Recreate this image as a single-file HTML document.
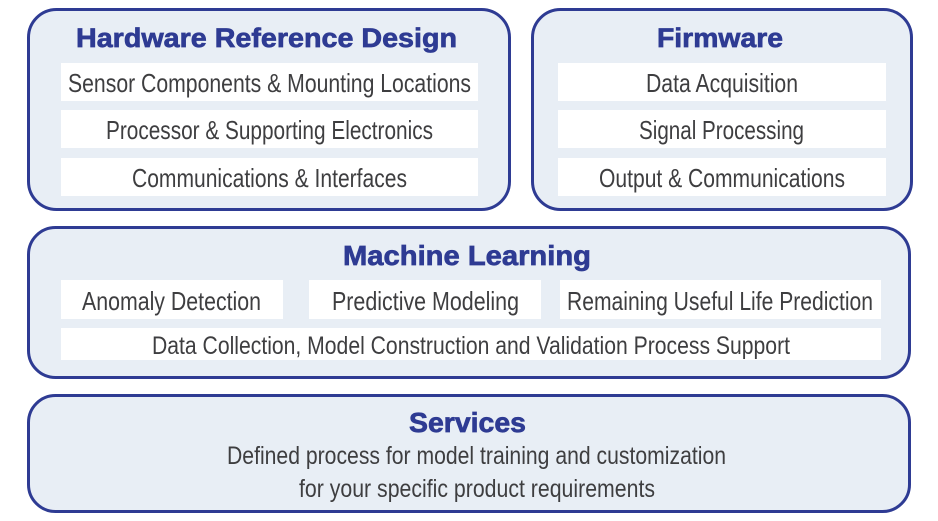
<!DOCTYPE html>
<html>
<head>
<meta charset="utf-8">
<style>
  html, body { margin: 0; padding: 0; background: #ffffff; }
  body { width: 938px; height: 521px; overflow: hidden; }
  svg { display: block; }
  .box { fill: #e8eef5; stroke: #2e3b93; stroke-width: 3; }
  .cell { fill: #ffffff; }
  .title { font-family: "Liberation Sans", Arial, sans-serif; font-weight: bold; fill: #2e3b93; stroke: #2e3b93; stroke-width: 0.7; }
  .item { font-family: "Liberation Sans", Arial, sans-serif; fill: #3e3e40; }
</style>
</head>
<body>
<svg width="938" height="521" viewBox="0 0 938 521" xmlns="http://www.w3.org/2000/svg">
  <!-- Hardware Reference Design -->
  <rect class="box" x="28.5" y="9.5" width="481" height="200" rx="28" ry="28"/>
  <text class="title" x="266.5" y="47" font-size="27" text-anchor="middle" textLength="381" lengthAdjust="spacingAndGlyphs">Hardware Reference Design</text>
  <rect class="cell" x="61" y="63" width="417" height="38"/>
  <rect class="cell" x="61" y="110" width="417" height="38"/>
  <rect class="cell" x="61" y="158" width="417" height="38"/>
  <text class="item" x="269.5" y="92" font-size="26" text-anchor="middle" textLength="403" lengthAdjust="spacingAndGlyphs">Sensor Components &amp; Mounting Locations</text>
  <text class="item" x="269.5" y="139" font-size="26" text-anchor="middle" textLength="327" lengthAdjust="spacingAndGlyphs">Processor &amp; Supporting Electronics</text>
  <text class="item" x="269.5" y="187" font-size="26" text-anchor="middle" textLength="275" lengthAdjust="spacingAndGlyphs">Communications &amp; Interfaces</text>

  <!-- Firmware -->
  <rect class="box" x="532.5" y="9.5" width="379" height="200" rx="28" ry="28"/>
  <text class="title" x="720" y="47" font-size="27" text-anchor="middle" textLength="126" lengthAdjust="spacingAndGlyphs">Firmware</text>
  <rect class="cell" x="558" y="63" width="328" height="38"/>
  <rect class="cell" x="558" y="110" width="328" height="38"/>
  <rect class="cell" x="558" y="158" width="328" height="38"/>
  <text class="item" x="722" y="92" font-size="26" text-anchor="middle" textLength="152" lengthAdjust="spacingAndGlyphs">Data Acquisition</text>
  <text class="item" x="721.5" y="139" font-size="26" text-anchor="middle" textLength="165" lengthAdjust="spacingAndGlyphs">Signal Processing</text>
  <text class="item" x="722" y="187" font-size="26" text-anchor="middle" textLength="246" lengthAdjust="spacingAndGlyphs">Output &amp; Communications</text>

  <!-- Machine Learning -->
  <rect class="box" x="28.5" y="227.5" width="881" height="150" rx="27" ry="27"/>
  <text class="title" x="467" y="265" font-size="28" text-anchor="middle" textLength="248" lengthAdjust="spacingAndGlyphs">Machine Learning</text>
  <rect class="cell" x="61" y="280" width="222" height="39"/>
  <rect class="cell" x="309" y="280" width="232" height="39"/>
  <rect class="cell" x="560" y="280" width="321" height="39"/>
  <rect class="cell" x="61" y="328" width="820" height="32"/>
  <text class="item" x="171.5" y="310" font-size="26" text-anchor="middle" textLength="179" lengthAdjust="spacingAndGlyphs">Anomaly Detection</text>
  <text class="item" x="425.5" y="310" font-size="26" text-anchor="middle" textLength="187" lengthAdjust="spacingAndGlyphs">Predictive Modeling</text>
  <text class="item" x="720" y="310" font-size="26" text-anchor="middle" textLength="306" lengthAdjust="spacingAndGlyphs">Remaining Useful Life Prediction</text>
  <text class="item" x="471" y="354" font-size="25" text-anchor="middle" textLength="638" lengthAdjust="spacingAndGlyphs">Data Collection, Model Construction and Validation Process Support</text>

  <!-- Services -->
  <rect class="box" x="28.5" y="395.5" width="881" height="116" rx="27" ry="27"/>
  <text class="title" x="467.5" y="432" font-size="28" text-anchor="middle" textLength="117" lengthAdjust="spacingAndGlyphs">Services</text>
  <text class="item" x="476.5" y="464" font-size="25" text-anchor="middle" textLength="499" lengthAdjust="spacingAndGlyphs">Defined process for model training and customization</text>
  <text class="item" x="477" y="497" font-size="25" text-anchor="middle" textLength="356" lengthAdjust="spacingAndGlyphs">for your specific product requirements</text>
</svg>
</body>
</html>
